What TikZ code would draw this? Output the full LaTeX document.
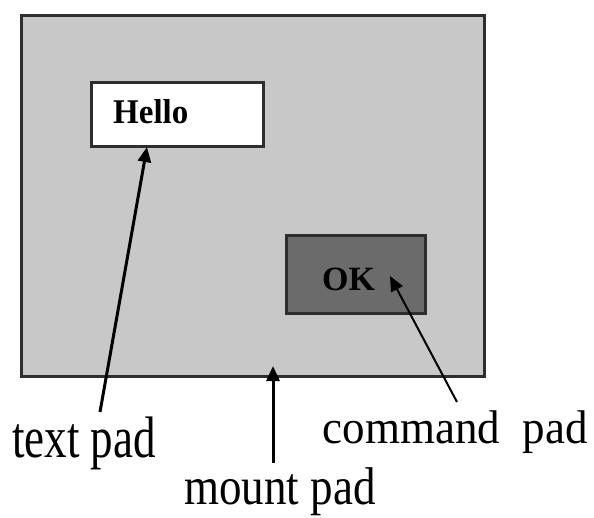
\documentclass[tikz,border=0pt]{standalone}
\usepackage{fontspec}
\usepackage{graphicx}
\setmainfont{Liberation Serif}
\usetikzlibrary{arrows.meta}
\definecolor{mountgray}{HTML}{C8C8C8}
\definecolor{okgray}{HTML}{6B6B6B}
\definecolor{edgegray}{HTML}{2E2E2E}
\tikzset{
  padbox/.style={draw=edgegray, line width=2.8pt, inner sep=0pt, anchor=north west},
  lbl/.style={inner sep=0pt, anchor=base, font=\fontsize{45}{50}\selectfont},
  ptr/.style={line width=3pt, -{Triangle[length=15pt,width=13pt]}, shorten >=0pt}
}
\begin{document}
\begin{tikzpicture}[x=1pt,y=-1pt]
\useasboundingbox (0,0) rectangle (594,517);
\node[padbox, fill=mountgray, minimum width=463pt, minimum height=361pt] (mount) at (20,14) {};
\node[padbox, fill=white, minimum width=172pt, minimum height=64pt] (hello) at (90,81) {};
\node[inner sep=0pt, anchor=base west, font=\fontsize{33}{36}\selectfont\bfseries] (hellotxt) at (113,123) {\scalebox{1}[1.05]{Hello}};
\node[padbox, fill=okgray, minimum width=139pt, minimum height=78pt] (ok) at (285,234) {};
\node[inner sep=0pt, anchor=base west, font=\fontsize{34}{36}\selectfont\bfseries] (oktxt) at (322,290) {OK};
\node[lbl] (textpad) at (84,457) {\scalebox{1}[1.3]{text pad}};
\node[lbl] (mountpad) at (280,504) {\scalebox{1}[1.18]{mount pad}};
\node[lbl] (cmdpad) at (455,443) {\scalebox{1}[1.05]{command\ \ pad}};
\coordinate (tpTail) at (100,412);
\coordinate (tpTip) at (147,147);
\coordinate (mpTail) at (273,463);
\coordinate (mpTip) at (273,366);
\coordinate (cpTail) at (457,402);
\coordinate (cpTip) at (390,276);
\draw[ptr] (tpTail) -- (tpTip);
\draw[ptr] (mpTail) -- (mpTip);
\draw[ptr, line width=2pt] (cpTail) -- (cpTip);
\end{tikzpicture}
\end{document}
